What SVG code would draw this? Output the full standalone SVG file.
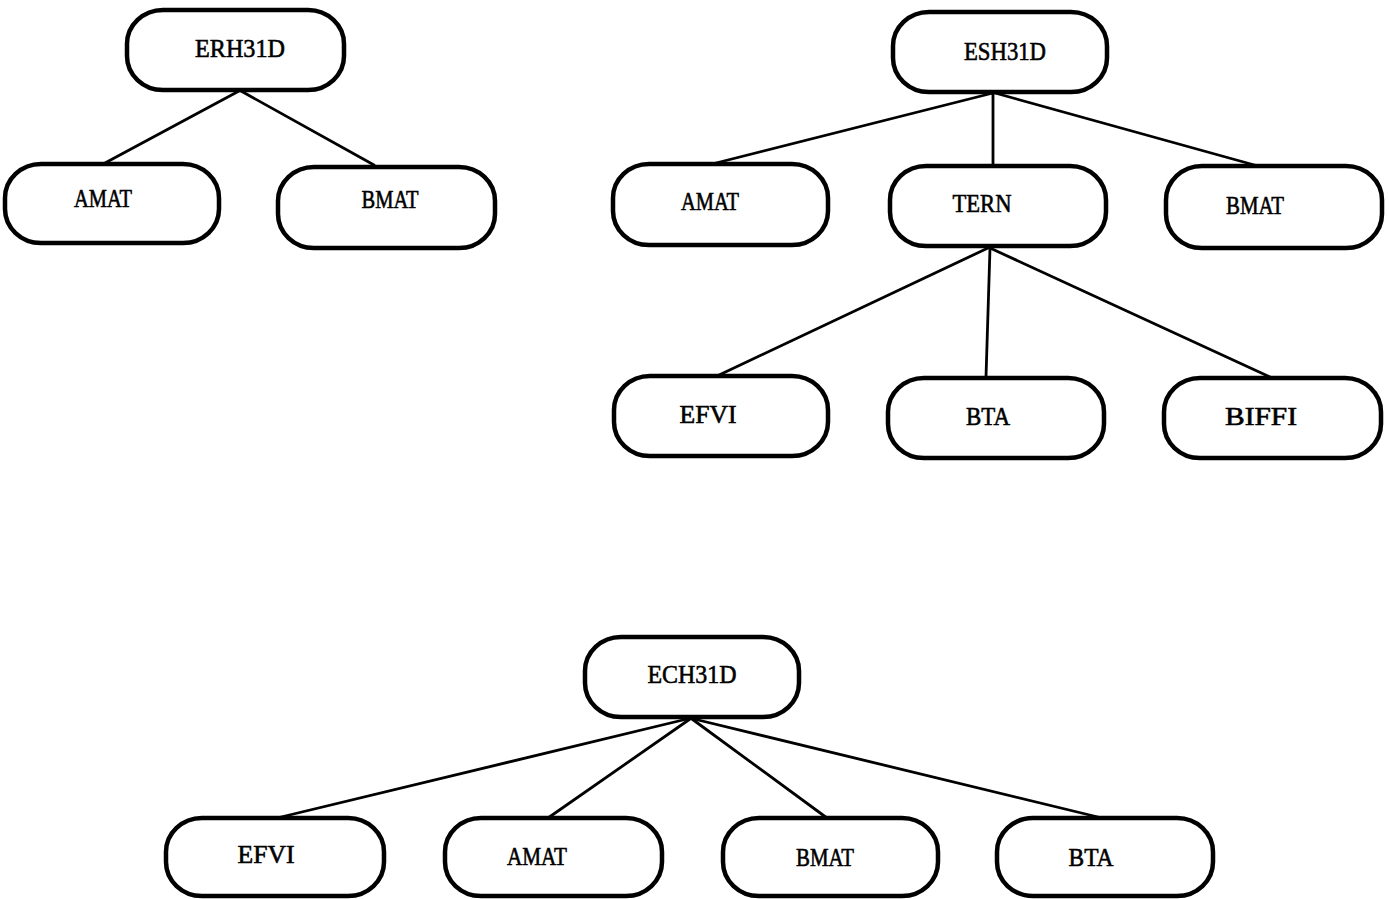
<svg xmlns="http://www.w3.org/2000/svg" width="1389" height="899" viewBox="0 0 1389 899">
<style>
.box{fill:#fff;stroke:#000;stroke-width:4.5}
.lbl{font-family:"Liberation Serif","Times New Roman",serif;font-size:26px;fill:#000;stroke:#000;stroke-width:0.6;text-anchor:middle}
.edge{stroke:#000;stroke-width:2.8;fill:none;stroke-linecap:round}
</style>
<rect width="1389" height="899" fill="#fff"/>
<g id="connectors">
<line class="edge" x1="239" y1="91" x2="105" y2="163"/>
<line class="edge" x1="241" y1="91" x2="374" y2="165"/>
<line class="edge" x1="993" y1="93" x2="716" y2="163"/>
<line class="edge" x1="993" y1="93" x2="993" y2="165"/>
<line class="edge" x1="995" y1="93" x2="1258" y2="166"/>
<line class="edge" x1="988" y1="248" x2="717" y2="376"/>
<line class="edge" x1="990" y1="248" x2="986" y2="377"/>
<line class="edge" x1="990" y1="248" x2="1270" y2="377"/>
<line class="edge" x1="687" y1="719" x2="277" y2="818"/>
<line class="edge" x1="690" y1="719" x2="548" y2="818"/>
<line class="edge" x1="692" y1="719" x2="827" y2="818"/>
<line class="edge" x1="694" y1="719" x2="1102" y2="818"/>
</g>
<g id="n-erh31d"><rect class="box" x="127" y="10" width="217" height="80" rx="36" ry="34"/><text class="lbl" x="240" y="57" textLength="90" lengthAdjust="spacingAndGlyphs">ERH31D</text></g>
<g id="n-t1-amat"><rect class="box" x="5" y="164" width="214" height="79" rx="36" ry="34"/><text class="lbl" x="103" y="207" textLength="58" lengthAdjust="spacingAndGlyphs">AMAT</text></g>
<g id="n-t1-bmat"><rect class="box" x="278" y="167" width="217" height="81" rx="36" ry="34"/><text class="lbl" x="390" y="208" textLength="57" lengthAdjust="spacingAndGlyphs">BMAT</text></g>
<g id="n-esh31d"><rect class="box" x="893" y="12" width="214" height="80" rx="36" ry="34"/><text class="lbl" x="1005" y="60" textLength="82" lengthAdjust="spacingAndGlyphs">ESH31D</text></g>
<g id="n-t2-amat"><rect class="box" x="613" y="164" width="215" height="81" rx="36" ry="34"/><text class="lbl" x="710" y="210" textLength="58" lengthAdjust="spacingAndGlyphs">AMAT</text></g>
<g id="n-tern"><rect class="box" x="890" y="166" width="216" height="80" rx="36" ry="34"/><text class="lbl" x="982" y="212" textLength="59" lengthAdjust="spacingAndGlyphs">TERN</text></g>
<g id="n-t2-bmat"><rect class="box" x="1166" y="166" width="216" height="82" rx="36" ry="34"/><text class="lbl" x="1255" y="214" textLength="58" lengthAdjust="spacingAndGlyphs">BMAT</text></g>
<g id="n-t2-efvi"><rect class="box" x="614" y="376" width="214" height="80" rx="36" ry="34"/><text class="lbl" x="708" y="423" textLength="57" lengthAdjust="spacingAndGlyphs">EFVI</text></g>
<g id="n-t2-bta"><rect class="box" x="888" y="378" width="216" height="80" rx="36" ry="34"/><text class="lbl" x="988" y="425" textLength="44" lengthAdjust="spacingAndGlyphs">BTA</text></g>
<g id="n-biffi"><rect class="box" x="1164" y="378" width="217" height="80" rx="36" ry="34"/><text class="lbl" x="1261" y="425" textLength="72" lengthAdjust="spacingAndGlyphs">BIFFI</text></g>
<g id="n-ech31d"><rect class="box" x="585" y="637" width="214" height="80" rx="36" ry="34"/><text class="lbl" x="692" y="683" textLength="89" lengthAdjust="spacingAndGlyphs">ECH31D</text></g>
<g id="n-t3-efvi"><rect class="box" x="166" y="818" width="218" height="78" rx="36" ry="34"/><text class="lbl" x="266" y="863" textLength="57" lengthAdjust="spacingAndGlyphs">EFVI</text></g>
<g id="n-t3-amat"><rect class="box" x="445" y="818" width="217" height="78" rx="36" ry="34"/><text class="lbl" x="537" y="865" textLength="60" lengthAdjust="spacingAndGlyphs">AMAT</text></g>
<g id="n-t3-bmat"><rect class="box" x="723" y="818" width="215" height="78" rx="36" ry="34"/><text class="lbl" x="825" y="866" textLength="58" lengthAdjust="spacingAndGlyphs">BMAT</text></g>
<g id="n-t3-bta"><rect class="box" x="997" y="818" width="216" height="78" rx="36" ry="34"/><text class="lbl" x="1091" y="866" textLength="45" lengthAdjust="spacingAndGlyphs">BTA</text></g>
</svg>
